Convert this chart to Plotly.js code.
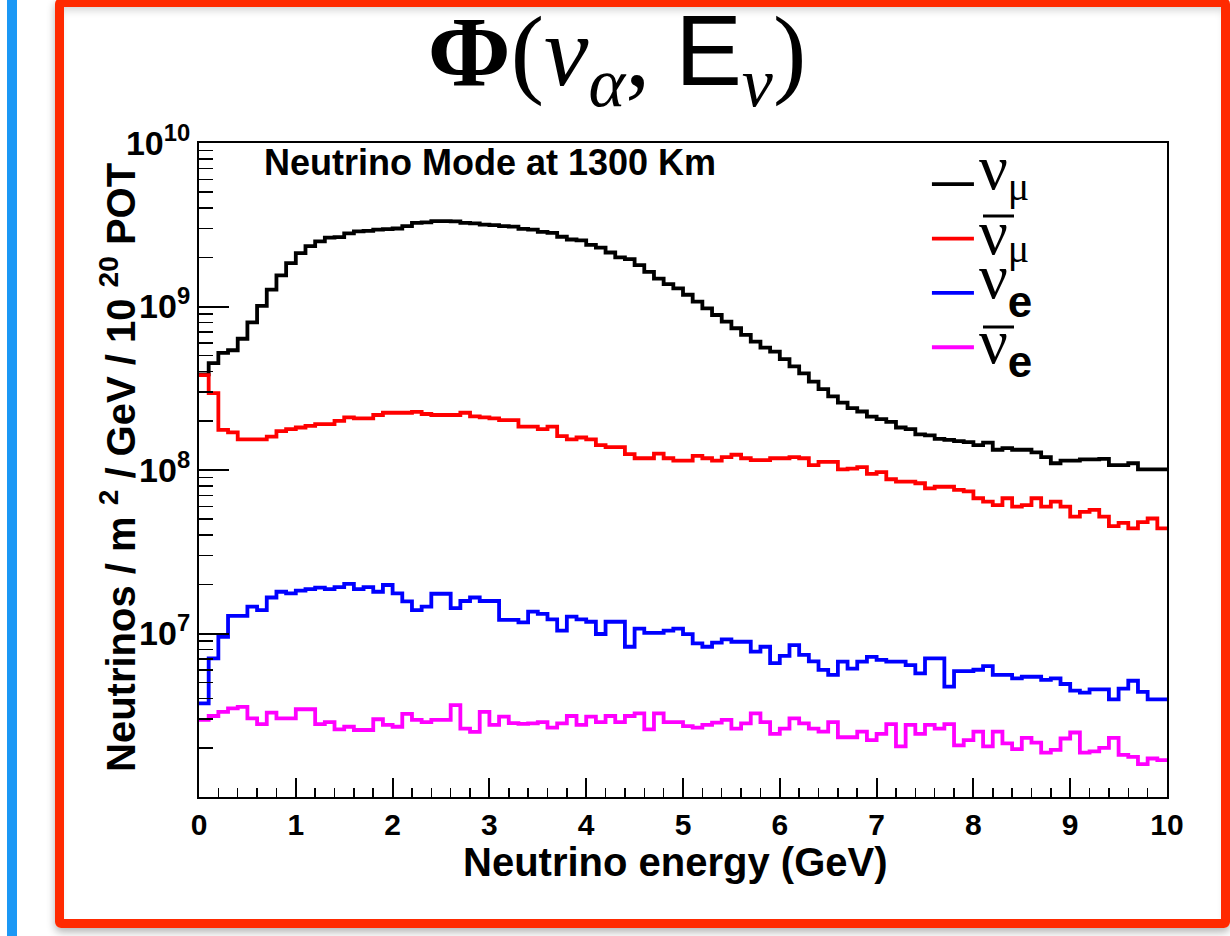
<!DOCTYPE html>
<html>
<head>
<meta charset="utf-8">
<script src="https://cdn.plot.ly/plotly-3.0.1.min.js"></script>
<style>
  html, body { margin:0; padding:0; background:#fff; }
  #page { position:relative; width:1230px; height:936px; overflow:hidden; background:#fff; }
  #blueBar { position:absolute; left:7px; top:0; width:10px; height:936px; background:#1b98f5; }
  #redFrame { position:absolute; left:55px; top:-2px; width:1175px; height:930px; box-sizing:border-box;
              border:9px solid #ff2a00; border-radius:6px;
              box-shadow: 0 4px 8px rgba(0,0,0,0.30), inset 0 7px 8px -4px rgba(0,0,0,0.18); }
  #chart { position:absolute; left:0; top:0; width:1230px; height:936px; }
</style>
</head>
<body>
<div id="page">
  <div id="blueBar"></div>
  <div id="redFrame"></div>
  <div id="chart"></div>
</div>
<script>
// Energy binning (GeV)
const binWidth = 0.1;
const eMin = 0;

// nu_mu flux (black)
const numu = [3.85e8,4.5e8,5.2e8,5.4e8,6.35e8,8.0e8,1.01e9,1.27e9,1.55e9,1.84e9,
  2.12e9,2.34e9,2.5e9,2.64e9,2.66e9,2.8e9,2.88e9,2.9e9,2.95e9,2.97e9,
  3.0e9,3.1e9,3.25e9,3.27e9,3.33e9,3.33e9,3.32e9,3.25e9,3.22e9,3.17e9,
  3.15e9,3.1e9,3.08e9,2.98e9,2.95e9,2.86e9,2.82e9,2.67e9,2.57e9,2.54e9,
  2.38e9,2.29e9,2.14e9,2.0e9,1.95e9,1.79e9,1.63e9,1.48e9,1.37e9,1.29e9,
  1.18e9,1.07e9,9.75e8,8.87e8,8.08e8,7.36e8,6.7e8,6.1e8,5.6e8,5.3e8,
  4.76e8,4.3e8,3.9e8,3.47e8,3.12e8,2.82e8,2.58e8,2.39e8,2.28e8,2.12e8,
  2.05e8,1.97e8,1.82e8,1.78e8,1.65e8,1.63e8,1.55e8,1.53e8,1.5e8,1.48e8,
  1.42e8,1.47e8,1.33e8,1.36e8,1.33e8,1.33e8,1.28e8,1.2e8,1.1e8,1.14e8,
  1.14e8,1.16e8,1.16e8,1.17e8,1.07e8,1.07e8,1.1e8,1.01e8,1.01e8,1.01e8];

// anti nu_mu flux (red)
const numubar = [3.8e8,2.95e8,1.76e8,1.7e8,1.54e8,1.54e8,1.54e8,1.6e8,1.73e8,1.78e8,
  1.82e8,1.86e8,1.91e8,1.91e8,2.0e8,2.1e8,2.07e8,2.07e8,2.17e8,2.24e8,
  2.24e8,2.24e8,2.27e8,2.2e8,2.17e8,2.17e8,2.17e8,2.24e8,2.13e8,2.1e8,
  2.07e8,2.02e8,2.02e8,1.84e8,1.84e8,1.78e8,1.84e8,1.61e8,1.54e8,1.58e8,
  1.54e8,1.42e8,1.38e8,1.38e8,1.25e8,1.18e8,1.18e8,1.26e8,1.18e8,1.14e8,
  1.14e8,1.22e8,1.18e8,1.14e8,1.2e8,1.24e8,1.18e8,1.15e8,1.15e8,1.18e8,
  1.18e8,1.2e8,1.18e8,1.07e8,1.12e8,1.12e8,1.01e8,1.02e8,1.04e8,9.46e7,
  9.7e7,8.78e7,8.48e7,8.48e7,8.3e7,7.73e7,7.9e7,7.9e7,7.55e7,7.4e7,
  6.72e7,6.4e7,6.1e7,6.72e7,5.97e7,6.1e7,6.72e7,5.97e7,6.4e7,5.97e7,
  5.18e7,5.55e7,5.7e7,5.18e7,4.54e7,4.75e7,4.4e7,4.8e7,5.05e7,4.4e7];

// nu_e flux (blue)
const nue = [3.74e6,7.05e6,9.55e6,1.28e7,1.28e7,1.46e7,1.39e7,1.66e7,1.8e7,1.76e7,
  1.83e7,1.87e7,1.91e7,1.87e7,1.92e7,2.01e7,1.87e7,1.92e7,1.8e7,1.98e7,
  1.76e7,1.57e7,1.39e7,1.46e7,1.75e7,1.75e7,1.43e7,1.58e7,1.66e7,1.58e7,
  1.58e7,1.21e7,1.21e7,1.17e7,1.36e7,1.32e7,1.22e7,1.04e7,1.27e7,1.22e7,
  1.18e7,9.93e6,1.18e7,1.18e7,8.3e6,1.07e7,1.01e7,1.01e7,1.04e7,1.07e7,
  9.9e6,8.7e6,8.3e6,8.8e6,9.2e6,8.9e6,8.9e6,7.74e6,8.3e6,6.58e6,
  7.3e6,8.5e6,7.4e6,6.75e6,5.99e6,5.58e6,6.73e6,6.1e6,6.73e6,7.2e6,
  6.9e6,6.73e6,6.73e6,6.41e6,5.71e6,7.05e6,7.05e6,4.73e6,5.88e6,5.88e6,
  6.0e6,6.32e6,5.58e6,5.58e6,5.32e6,5.44e6,5.44e6,5.2e6,5.32e6,4.91e6,
  4.47e6,4.35e6,4.55e6,4.55e6,3.96e6,4.6e6,5.14e6,4.4e6,3.96e6,3.96e6];

// anti nu_e flux (magenta)
const nuebar = [2.96e6,3.13e6,3.32e6,3.48e6,3.56e6,3.03e6,2.79e6,3.28e6,3.03e6,3.03e6,
  3.44e6,3.44e6,2.79e6,2.87e6,2.59e6,2.69e6,2.57e6,2.57e6,2.99e6,2.76e6,
  2.69e6,3.22e6,2.96e6,2.87e6,2.96e6,2.96e6,3.65e6,2.62e6,2.5e6,3.32e6,
  2.76e6,3.1e6,2.83e6,2.8e6,2.82e6,2.87e6,2.66e6,2.82e6,3.13e6,2.76e6,
  3.1e6,2.87e6,3.13e6,2.87e6,3.13e6,3.25e6,2.59e6,3.25e6,2.87e6,2.87e6,
  2.71e6,2.66e6,2.76e6,2.85e6,2.96e6,2.62e6,2.82e6,3.25e6,2.87e6,2.43e6,
  2.62e6,3.03e6,2.82e6,2.62e6,2.51e6,2.87e6,2.32e6,2.32e6,2.51e6,2.23e6,
  2.43e6,2.79e6,2.04e6,2.76e6,2.43e6,2.76e6,2.62e6,2.79e6,2.07e6,2.23e6,
  2.51e6,2.04e6,2.51e6,2.13e6,1.96e6,2.3e6,2.15e6,1.87e6,1.94e6,2.28e6,
  2.48e6,1.87e6,1.9e6,2.0e6,2.3e6,1.81e6,1.76e6,1.59e6,1.72e6,1.68e6];

// Axis tick labels
const xTickVals = [0,1,2,3,4,5,6,7,8,9,10];
const yDecades = [6,7,8,9,10];
const yLabelDecades = [7,8,9,10];
const yMinorMult = [2,3,4,5,6,7,8,9];

// Legend labels (nu symbol + flavour index, ROOT-like vertical placement)
const NU = '<span style="font-family:Liberation Serif;font-size:64px">ν</span>';
const MU = '<span style="font-family:Liberation Serif;font-size:40px">μ</span>';
const E  = '<span style="font-family:Liberation Sans;font-weight:bold;font-size:44px">e</span>';
const seriesNames = [
  '<sup><sub>' + NU + '</sub></sup>' + MU,
  NU + '<sub>' + MU + '</sub>',
  '<sup><sub>' + NU + '</sub></sup><sub>' + E + '</sub>',
  NU + '<sub><sub>' + E + '</sub></sub>'
];
const seriesColors = ['#000000','#ff0000','#0000ff','#ff00ff'];
const seriesData = [numu, numubar, nue, nuebar];

function histTrace(vals, name, color) {
  const x = vals.map((_, i) => eMin + i * binWidth);
  x.push(eMin + vals.length * binWidth);
  const y = vals.slice();
  y.push(vals[vals.length - 1]);
  return { type:'scatter', mode:'lines', x:x, y:y, name:name,
           line:{ shape:'hv', color:color, width:3.8 }, hoverinfo:'x+y' };
}

const traces = seriesData.map((v, k) => histTrace(v, seriesNames[k], seriesColors[k]));

const minorY = [];
yDecades.slice(0, -1).forEach(d => yMinorMult.forEach(m => minorY.push(m * Math.pow(10, d))));

const boldSans = { family:'Liberation Sans, Arial, sans-serif', weight:'bold', color:'#000' };

// plot-area pixel geometry (for placing decorations in paper units)
const M = { l:199, r:63, t:143, b:139 };
const W = 1230, H = 936;
const pw = W - M.l - M.r, ph = H - M.t - M.b;
const px2x = p => (p - M.l) / pw;
const px2y = p => (H - M.b - p) / ph;

// overline bars of the anti-neutrino legend symbols
const antiBarPx = [216, 327];
const barShapes = antiBarPx.map(yb => ({
  type:'line', xref:'paper', yref:'paper', x0:px2x(983), x1:px2x(1014), y0:px2y(yb), y1:px2y(yb),
  line:{ color:'#000', width:3 }
}));

const layout = {
  width:W, height:H,
  margin:M,
  paper_bgcolor:'rgba(0,0,0,0)',
  plot_bgcolor:'#ffffff',
  showlegend:true,
  title:{
    text:'<b>Φ</b>(<i>ν<sub>α</sub></i>, <span style="font-family:Liberation Sans">E</span><sub><i>ν</i></sub>)',
    x:617/1230, xanchor:'center', xref:'container',
    y:1 - 50/936, yanchor:'middle', yref:'container',
    font:{ family:'Liberation Serif, Times New Roman, serif', size:100, color:'#000' }
  },
  xaxis:{
    range:[0,10], tickvals:xTickVals, ticks:'inside', ticklen:19, tickwidth:2, tickcolor:'#000',
    minor:{ dtick:0.2, ticks:'inside', ticklen:9, tickwidth:1.5, tickcolor:'#000', showgrid:false },
    showline:true, mirror:true, linecolor:'#000', linewidth:2,
    showgrid:false, zeroline:false,
    tickfont:Object.assign({ size:30 }, boldSans)
  },
  yaxis:{
    type:'log', range:[6,10],
    tickvals:yLabelDecades.map(d => Math.pow(10, d)),
    ticktext:yLabelDecades.map(d => '10<sup>' + d + '</sup>'),
    ticks:'inside', ticklen:30, tickwidth:2, tickcolor:'#000',
    minor:{ tickmode:'array', tickvals:minorY, ticks:'inside', ticklen:14, tickwidth:1.5, tickcolor:'#000', showgrid:false },
    showline:true, mirror:true, linecolor:'#000', linewidth:2,
    showgrid:false, zeroline:false,
    tickfont:Object.assign({ size:34 }, boldSans)
  },
  legend:{
    x:0.752, xanchor:'left', y:px2y(152), yanchor:'top',
    bgcolor:'rgba(0,0,0,0)', borderwidth:0,
    font:{ family:'Liberation Sans, Arial, sans-serif', size:39.5, color:'#000' },
    itemwidth:42, tracegroupgap:0
  },
  shapes:barShapes,
  annotations:[
    { text:'Neutrino Mode at 1300 Km', xref:'paper', yref:'paper',
      x:px2x(262), xanchor:'left', y:px2y(163), yanchor:'middle',
      showarrow:false, font:Object.assign({ size:36 }, boldSans) },
    { text:'Neutrino energy (GeV)', xref:'paper', yref:'paper',
      x:px2x(675), xanchor:'center', y:px2y(862), yanchor:'middle',
      showarrow:false, font:Object.assign({ size:40 }, boldSans) },
    { text:'Neutrinos / m <sup>2</sup> / GeV / 10 <sup>20</sup> POT', xref:'paper', yref:'paper',
      x:px2x(118), xanchor:'center', y:px2y(468), yanchor:'middle', textangle:-90,
      showarrow:false, font:Object.assign({ size:40 }, boldSans) }
  ]
};

Plotly.newPlot('chart', traces, layout, { displayModeBar:false, staticPlot:true });
</script>
</body>
</html>
